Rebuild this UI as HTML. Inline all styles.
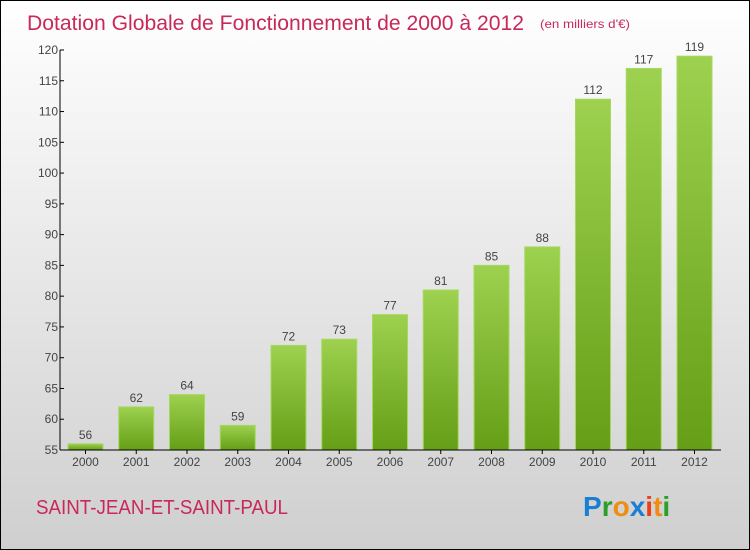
<!DOCTYPE html>
<html><head><meta charset="utf-8"><style>
body{margin:0}
svg{display:block;font-family:"Liberation Sans",sans-serif}
</style></head><body>
<svg width="750" height="550" viewBox="0 0 750 550">
<defs>
<linearGradient id="bg" x1="0" y1="0" x2="0" y2="1"><stop offset="0" stop-color="#ffffff"/><stop offset="1" stop-color="#cfcfcf"/></linearGradient>
<linearGradient id="bar" x1="0" y1="0" x2="0" y2="1"><stop offset="0" stop-color="#9dd14f"/><stop offset="1" stop-color="#659e17"/></linearGradient>
</defs>
<rect x="0.5" y="0.5" width="749" height="549" fill="url(#bg)" stroke="#000"/>
<text x="27" y="30" font-size="21" fill="#c8285a" textLength="497" lengthAdjust="spacingAndGlyphs">Dotation Globale de Fonctionnement de 2000 à 2012</text>
<text x="540" y="28" font-size="12" fill="#c8285a" textLength="90" lengthAdjust="spacingAndGlyphs">(en milliers d'€)</text>
<g id="plot"></g>
<text x="36" y="514" font-size="20" fill="#c8285a" textLength="252" lengthAdjust="spacingAndGlyphs">SAINT-JEAN-ET-SAINT-PAUL</text>
<text x="583" y="516" font-size="28" font-weight="bold"><tspan fill="#1a7fd4">P</tspan><tspan fill="#2aa02a">r</tspan><tspan fill="#f08c10">o</tspan><tspan fill="#1a7fd4">x</tspan><tspan fill="#e8401a">i</tspan><tspan fill="#f08c10">t</tspan><tspan fill="#2aa02a">i</tspan></text>
</svg>
<script>
const categories=["2000","2001","2002","2003","2004","2005","2006","2007","2008","2009","2010","2011","2012"];
const values=[56,62,64,59,72,73,77,81,85,88,112,117,119];
const yTicks=[55,60,65,70,75,80,85,90,95,100,105,110,115,120];
const NS="http://www.w3.org/2000/svg";
const g=document.getElementById('plot');
const yMin=55,yMax=120,yTop=50,yBot=450,x0=60,x1=721;
const y=v=>yBot-(v-yMin)/(yMax-yMin)*(yBot-yTop);
const step=50.75,first=85.5,bw=35;
const x=i=>first+i*step;
function el(t,a){const e=document.createElementNS(NS,t);for(const k in a)e.setAttribute(k,a[k]);g.appendChild(e);return e;}
values.forEach((v,i)=>{
 const r=el('rect',{x:x(i)-bw/2,y:y(v),width:bw,height:yBot-y(v),fill:'url(#bar)',stroke:'#a6d860','stroke-width':1});
 
 
 const t=el('text',{x:x(i),y:y(v)-5,'text-anchor':'middle','font-size':12,fill:'#444'});
 t.textContent=v;
 
 
 const c=el('text',{x:x(i),y:466,'text-anchor':'middle','font-size':12,fill:'#444'});
 c.textContent=categories[i];
 
 
 el('line',{x1:x(i),x2:x(i),y1:yBot,y2:yBot+4,stroke:'#000'});
});
yTicks.forEach(v=>{
 el('line',{x1:x0,x2:x0+4,y1:y(v),y2:y(v),stroke:'#000'});
 const t=el('text',{x:x0-2,y:y(v)+4,'text-anchor':'end','font-size':12,fill:'#444'});
 t.textContent=v;
 
 
});
const ya=el('line',{x1:x0,x2:x0,y1:yTop,y2:yBot,stroke:'#000'});


const xa=el('line',{x1:x0,x2:x1,y1:yBot,y2:yBot,stroke:'#000'});


</script>
</body></html>
